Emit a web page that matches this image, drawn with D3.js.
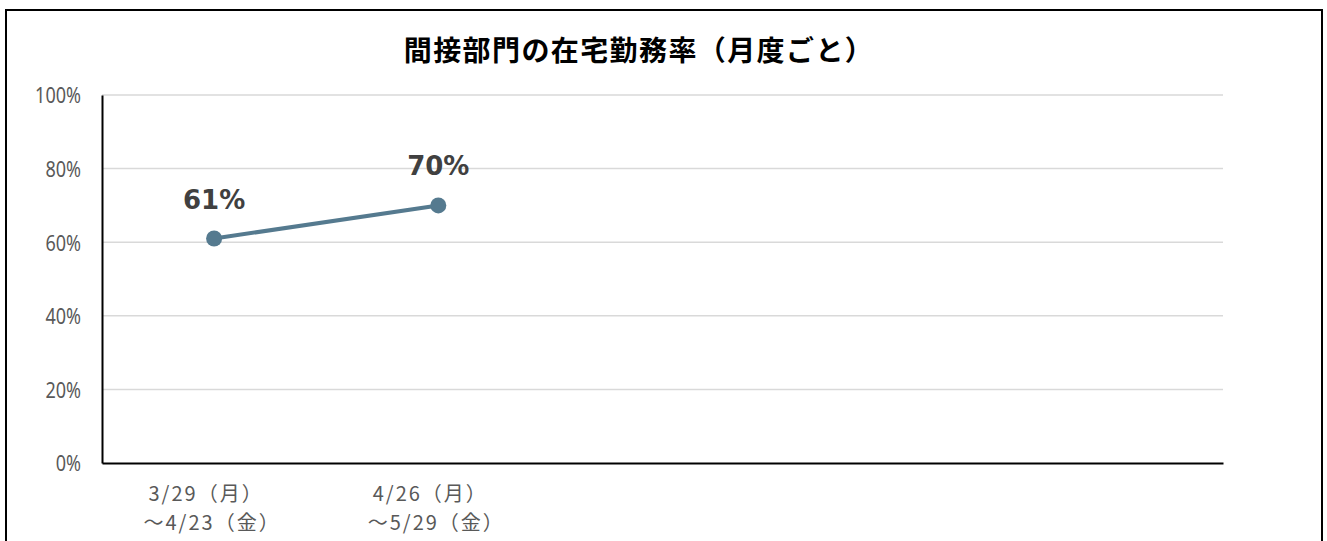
<!DOCTYPE html>
<html>
<head>
<meta charset="utf-8">
<script src="https://cdn.jsdelivr.net/npm/d3@7"></script>
<style>
  body { margin: 0; background: #fff; }
  svg { display: block; }
</style>
</head>
<body>
<script>
// 期間（カテゴリ）: 2行ラベル
const periods = ["p1", "p2", "p3", "p4", "p5"];
const periodLine1 = ["3/29（月）", "4/26（月）", "", "", ""];
const periodLine2 = ["～4/23（金）", "～5/29（金）", "", "", ""];
const rates = [0.61, 0.70, null, null, null];
const yTicks = [0, 0.2, 0.4, 0.6, 0.8, 1.0];
const title = "間接部門の在宅勤務率（月度ごと）";

const width = 1327;
const height = 541;
const margin = { left: 102, right: 1223, top: 95, bottom: 463 };

const svg = d3.select("body").append("svg").attr("width", width).attr("height", height);

// 外枠
svg.append("rect")
  .attr("x", 6).attr("y", 10)
  .attr("width", 1316).attr("height", 560)
  .attr("fill", "none").attr("stroke", "#000").attr("stroke-width", 2);

svg.append("text")
  .attr("x", 639).attr("y", 61)
  .attr("text-anchor", "middle")
  .attr("font-family", "Noto Sans CJK JP")
  .attr("font-weight", "bold")
  .attr("font-size", 28)
  .attr("letter-spacing", 1.4)
  .attr("fill", "#000")
  .text(title);

/** x 軸の尺度 */
const xScale = d3.scaleBand()
  .domain(periods)
  .range([margin.left, margin.right]);

/** y 軸の尺度 */
const yScale = d3.scaleLinear()
  .domain([0, 1])
  .range([margin.bottom, margin.top]);

// グリッド線
svg.append("g")
  .selectAll("line")
  .data(yTicks.filter(d => d > 0))
  .join("line")
  .attr("x1", margin.left).attr("x2", margin.right)
  .attr("y1", d => yScale(d)).attr("y2", d => yScale(d))
  .attr("stroke", "#d9d9d9").attr("stroke-width", 1.5);

// y 軸（縦長の数字に見せるため横方向に縮める）
const sx = 0.82;
const axisy = d3.axisLeft(yScale)
  .tickValues(yTicks)
  .tickFormat(d3.format(".0%"))
  .tickSize(0);
const gy = svg.append("g")
  .attr("transform", "translate(" + margin.left + ",0)")
  .call(axisy);
gy.select(".domain").attr("stroke", "#000").attr("stroke-width", 2);
gy.selectAll("text")
  .attr("x", -21 / sx)
  .attr("dy", "0.36em")
  .attr("transform", "scale(" + sx + ",1)")
  .attr("font-family", "Noto Sans, sans-serif")
  .attr("font-size", 22)
  .attr("fill", "#595959");

// x 軸
const axisx = d3.axisBottom(xScale).tickSize(0).tickFormat("");
const gx = svg.append("g")
  .attr("transform", "translate(0," + margin.bottom + ")")
  .call(axisx);
gx.select(".domain").attr("stroke", "#000").attr("stroke-width", 2);

const xl = svg.append("g")
  .attr("font-family", "Noto Sans CJK JP")
  .attr("font-size", 20)
  .attr("letter-spacing", 2)
  .attr("fill", "#595959")
  .attr("text-anchor", "middle");
xl.selectAll("text.l1")
  .data(periods)
  .join("text")
  .attr("class", "l1")
  .attr("x", d => xScale(d) + xScale.bandwidth() / 2 - 8)
  .attr("y", 501)
  .text((d, i) => periodLine1[i]);
xl.selectAll("text.l2")
  .data(periods)
  .join("text")
  .attr("class", "l2")
  .attr("x", d => xScale(d) + xScale.bandwidth() / 2 - 2)
  .attr("y", 530)
  .text((d, i) => periodLine2[i]);

const points = periods
  .map((p, i) => ({ period: p, value: rates[i] }))
  .filter(d => d.value !== null);

const line = d3.line()
  .x(d => xScale(d.period) + xScale.bandwidth() / 2)
  .y(d => yScale(d.value));

svg.append("path")
  .datum(points)
  .attr("fill", "none")
  .attr("stroke", "#557a8f")
  .attr("stroke-width", 4)
  .attr("d", line);

svg.append("g")
  .selectAll("circle")
  .data(points)
  .join("circle")
  .attr("cx", d => xScale(d.period) + xScale.bandwidth() / 2)
  .attr("cy", d => yScale(d.value))
  .attr("r", 8)
  .attr("fill", "#557a8f");

svg.append("g")
  .selectAll("text")
  .data(points)
  .join("text")
  .attr("x", d => xScale(d.period) + xScale.bandwidth() / 2)
  .attr("y", d => yScale(d.value) - 30)
  .attr("text-anchor", "middle")
  .attr("font-family", "DejaVu Sans, sans-serif")
  .attr("font-weight", "bold")
  .attr("font-size", 26)
  .attr("fill", "#404040")
  .text(d => d3.format(".0%")(d.value));
</script>
</body>
</html>
